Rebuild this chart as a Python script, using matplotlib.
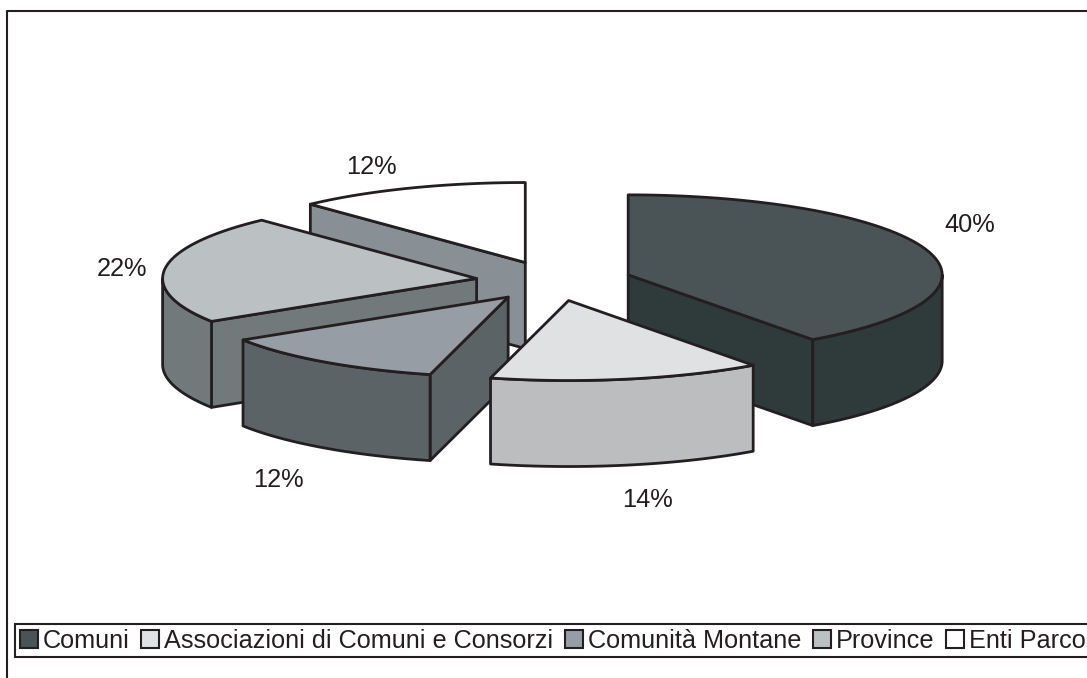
import numpy as np
import matplotlib
matplotlib.use("Agg")
import matplotlib.pyplot as plt
from matplotlib.patches import Polygon, Patch

labels = ["Comuni", "Associazioni di Comuni e Consorzi", "Comunità Montane", "Province", "Enti Parco"]
values = [40, 14, 12, 22, 12]
top_colors = ["#4a5356", "#e0e1e3", "#979da4", "#bbc0c3", "#ffffff"]
side_colors = ["#2f3a3a", "#bcbdbf", "#5b6366", "#71797b", "#889096"]

# pie geometry, pixels
cx, cy = 554, 281
rx, ry = 314, 80
depth = 86
explode = 78
line_w = 2.0
edge = "#231f20"

plt.rcParams["font.family"] = ["Liberation Sans", "DejaVu Sans"]

fig = plt.figure(figsize=(10.87, 6.78), dpi=100)
ax = fig.add_axes([0, 0, 1, 1])
ax.set_xlim(0, 1087)
ax.set_ylim(678, 0)
ax.axis("off")

# outer frame
ax.plot([7, 7, 1087], [678, 11, 11], color=edge, lw=1.5)


def rim(center, a, b):
    t = np.radians(np.linspace(a, b, 80))
    return np.column_stack([center[0] + rx * np.sin(t), center[1] - ry * np.cos(t)])


def draw_slice(i, a, b):
    mid = np.radians((a + b) / 2)
    c = (cx + explode * np.sin(mid), cy - explode * ry / rx * np.cos(mid))
    down = np.array([0, depth])

    # radial walls, only the ones facing the viewer
    for ang, visible in [(a, np.sin(np.radians(a)) < -1e-6), (b, np.sin(np.radians(b)) > 1e-6)]:
        if visible:
            p = rim(c, ang, ang)[0]
            wall = np.array([c, p, p + down, np.array(c) + down])
            ax.add_patch(Polygon(wall, fc=side_colors[i], ec=edge, lw=line_w, joinstyle="round"))

    # outer wall, south half of the rim
    lo, hi = max(a, 90), min(b, 270)
    if lo < hi:
        r = rim(c, lo, hi)
        wall = np.vstack([r, (r + down)[::-1]])
        ax.add_patch(Polygon(wall, fc=side_colors[i], ec=edge, lw=line_w, joinstyle="round"))

    top = np.vstack([[c], rim(c, a, b)])
    ax.add_patch(Polygon(top, fc=top_colors[i], ec=edge, lw=line_w, joinstyle="round"))


edges = np.concatenate([[0], np.cumsum(values)]) * 3.6
# back to front
for i in [4, 3, 2, 0, 1]:
    draw_slice(i, edges[i], edges[i + 1])

# percent labels
label_x = [970, 647, 278, 122, 371]
label_y = [225, 500, 480, 269, 167]
for i, v in enumerate(values):
    ax.text(label_x[i], label_y[i], f"{v}%", fontsize=18.3, color=edge, ha="center", va="center")

handles = [Patch(fc=top_colors[i], ec=edge, lw=1.5) for i in range(len(labels))]
leg = ax.legend(handles, labels, ncol=5, loc="upper left", bbox_to_anchor=(15 / 1087, 1 - 624 / 678),
                bbox_transform=ax.transAxes, borderaxespad=0, fontsize=18.2, frameon=True, fancybox=False,
                edgecolor=edge, framealpha=1, handlelength=0.72, handleheight=0.72, handletextpad=0.2,
                columnspacing=0.45, borderpad=0.18, labelcolor=edge)
leg.get_frame().set_linewidth(1.5)

fig.savefig("out.png", dpi=100)
